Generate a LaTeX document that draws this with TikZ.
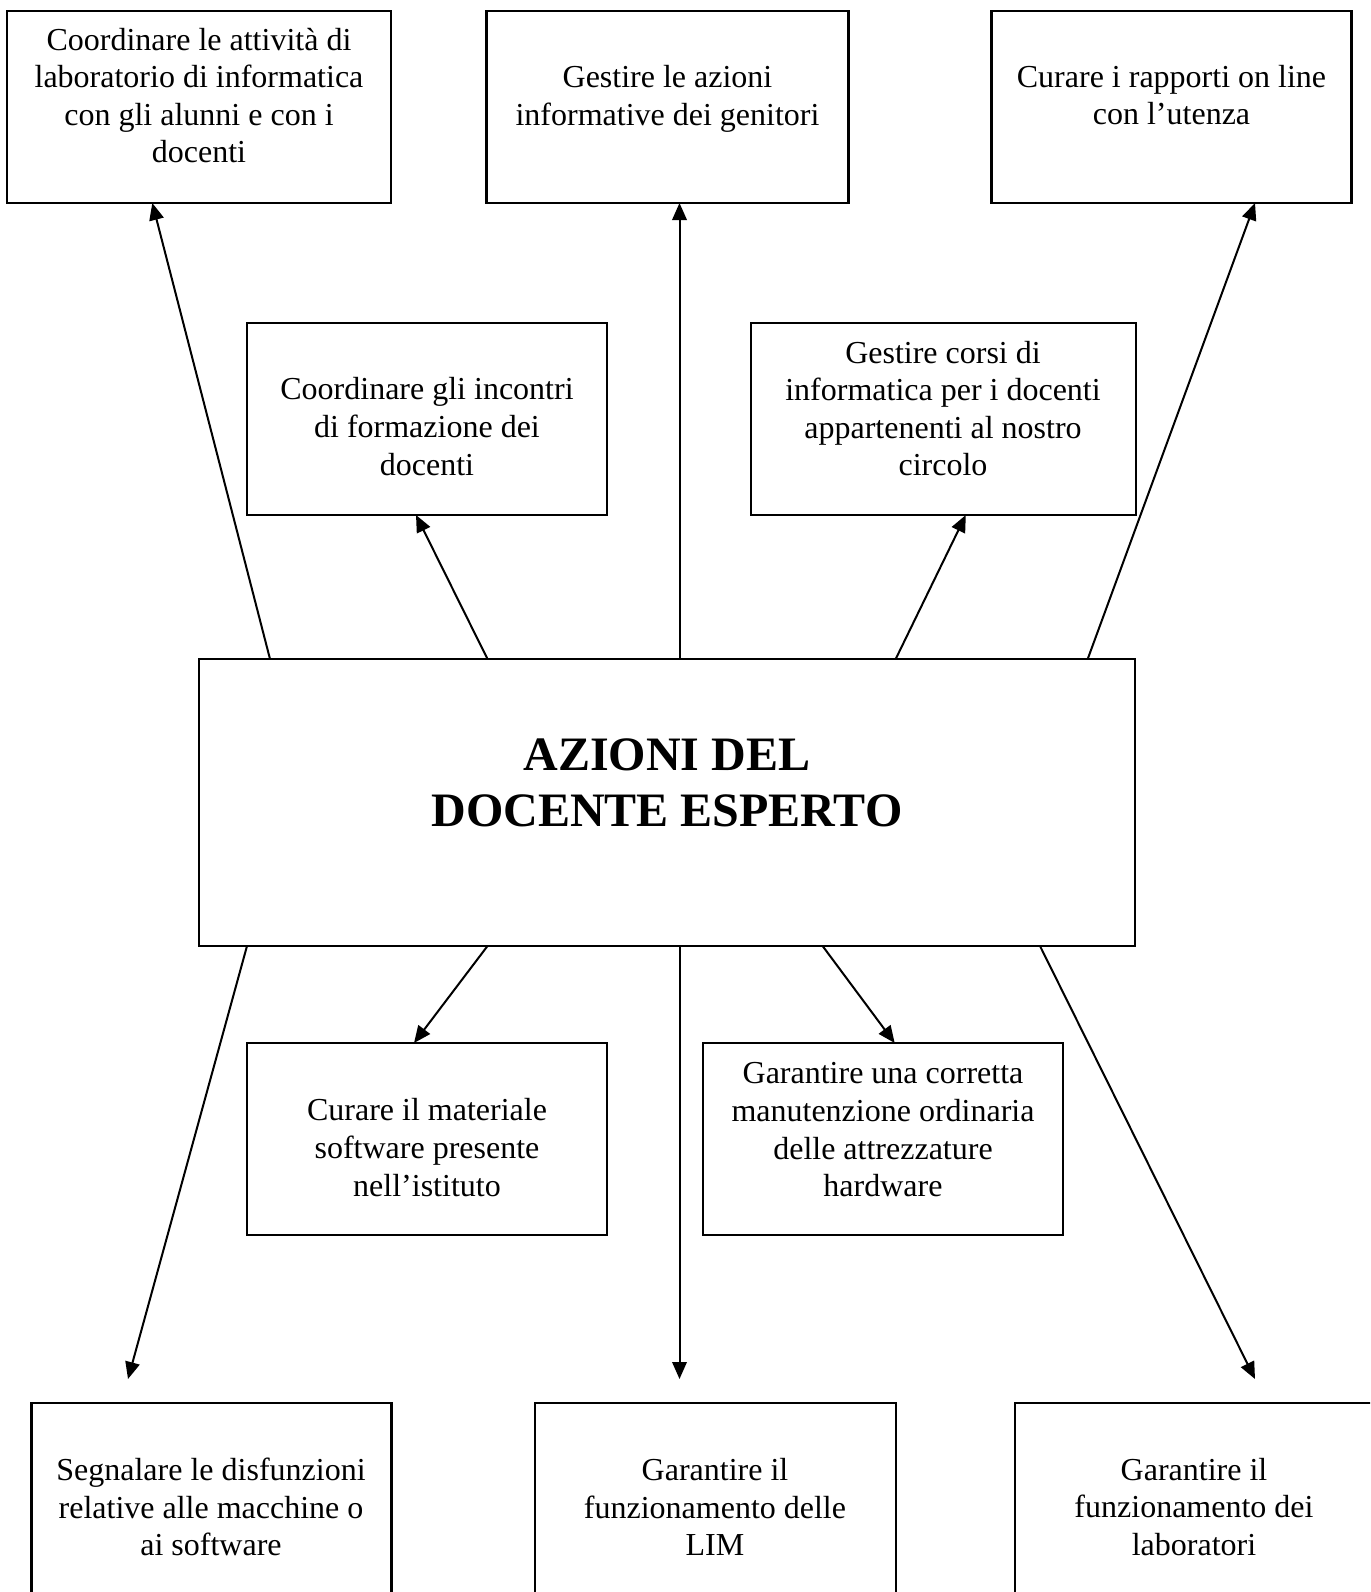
\documentclass[tikz,border=0pt]{standalone}
\usepackage{fontspec}
\setmainfont{Liberation Serif}
\usetikzlibrary{arrows.meta,calc}
\begin{document}
\begin{tikzpicture}[x=1pt,y=-1pt,
  box/.style 2 args={draw,line width=2.6pt,rectangle,inner sep=0pt,outer sep=0pt,minimum width=#1,minimum height=#2},
  txt/.style={align=center,inner sep=0pt,font=\fontsize{32}{37.6}\selectfont},
  ttl/.style={align=center,inner sep=0pt,font=\fontsize{48}{55.8}\selectfont\bfseries},
  arr/.style={line width=2pt,-{Triangle[length=17pt,width=14.5pt]}}]
\path[use as bounding box,fill=white] (0,0) rectangle (1370,1592);
\clip (0,0) rectangle (1370,1592);
% boxes
\node[box={384}{192}] (tl) at (199,107) {};
\node[box={361.6}{192}] (tm) at (667.5,107) {};
\node[box={360}{192}] (tr) at (1171.5,107) {};
\node[box={360}{192}] (ml) at (427,419) {};
\node[box={385}{192}] (mr) at (943.5,419) {};
\node[box={936}{287}] (c) at (667,802.5) {};
\node[box={360}{192}] (lml) at (427,1139) {};
\node[box={360}{192}] (lmr) at (883,1139) {};
\node[box={360}{200}] (bl) at (211.5,1503) {};
\node[box={361}{200}] (bm) at (715.5,1503) {};
\node[box={358}{200}] (br) at (1194,1503) {};
% texts
\node[txt] (tlt) at (199,95.5) {Coordinare le attività di\\laboratorio di informatica\\con gli alunni e con i\\docenti};
\node[txt] (tmt) at (667.5,99) {Gestire le azioni\\informative dei genitori};
\node[txt] (trt) at (1171.5,95) {Curare i rapporti on line\\con l’utenza};
\node[txt] (mlt) at (427,426.5) {Coordinare gli incontri\\di formazione dei\\docenti};
\node[txt] (mrt) at (943,408.5) {Gestire corsi di\\informatica per i docenti\\appartenenti al nostro\\circolo};
\node[ttl] (ct) at (667,782.5) {AZIONI DEL\\DOCENTE ESPERTO};
\node[txt] (lmlt) at (427,1147.6) {Curare il materiale\\software presente\\nell’istituto};
\node[txt] (lmrt) at (883,1129.8) {Garantire una corretta\\manutenzione ordinaria\\delle attrezzature\\hardware};
\node[txt] (blt) at (211,1507) {Segnalare le disfunzioni\\relative alle macchine o\\ai software};
\node[txt] (bmt) at (715,1507) {Garantire il\\funzionamento delle\\LIM};
\node[txt] (brt) at (1194,1507) {Garantire il\\funzionamento dei\\laboratori};
% free ends
\coordinate (p1) at (128,1379);
\coordinate (p2) at (679.5,1379);
\coordinate (p3) at (1255,1379);
% arrows up
\draw[arr] ([xshift=71pt]c.north west) -- ([xshift=145.3pt]tl.south west);
\draw[arr] ([xshift=288.5pt]c.north west) -- ([xshift=169pt]ml.south west);
\draw[arr] ([xshift=480.5pt]c.north west) -- ([xshift=192.8pt]tm.south west);
\draw[arr] ([xshift=696.7pt]c.north west) -- ([xshift=214.8pt]mr.south west);
\draw[arr] ([xshift=888.7pt]c.north west) -- ([xshift=263.5pt]tr.south west);
% arrows down
\draw[arr] ([xshift=48pt]c.south west) -- (p1);
\draw[arr] ([xshift=288.5pt]c.south west) -- ([xshift=167pt]lml.north west);
\draw[arr] ([xshift=480.5pt]c.south west) -- (p2);
\draw[arr] ([xshift=623.6pt]c.south west) -- ([xshift=191.7pt]lmr.north west);
\draw[arr] ([xshift=841pt]c.south west) -- (p3);
\end{tikzpicture}
\end{document}
